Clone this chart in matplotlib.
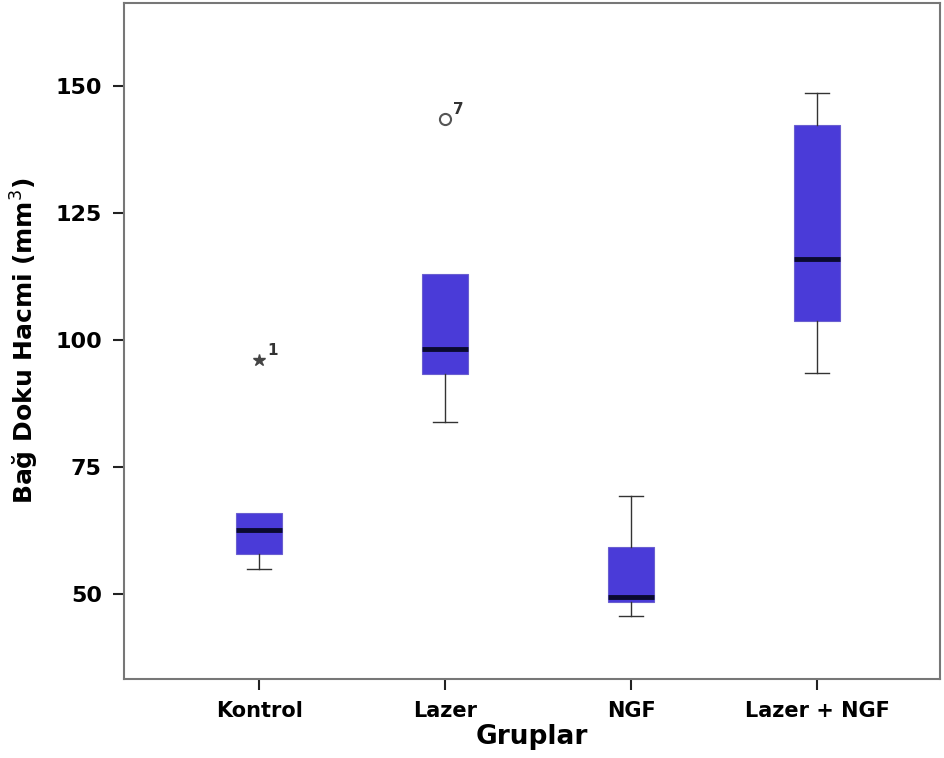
import matplotlib
matplotlib.use('Agg')
import matplotlib.pyplot as plt

# veriler
gruplar = ['Kontrol', 'Lazer', 'NGF', 'Lazer + NGF']
q1 = [57.9, 93.3, 48.4, 103.8]
medyan = [62.7, 98.3, 49.5, 115.9]
q3 = [66.0, 112.9, 59.3, 142.3]
alt_biyik = [54.9, 83.9, 45.7, 93.6]
ust_biyik = [66.0, 112.9, 69.35, 148.6]
aykiri = [[96.0], [143.4], [], []]
aykiri_etiket = ['1', '7', '', '']
aykiri_isaret = ['*', 'o', 'o', 'o']

stats = []
for i in range(len(gruplar)):
    stats.append(dict(label=gruplar[i], q1=q1[i], med=medyan[i], q3=q3[i],
                      whislo=alt_biyik[i], whishi=ust_biyik[i], fliers=[]))

fig = plt.figure(figsize=(9.45, 7.58), dpi=100)
ax = fig.add_axes([124/945, 1 - 679/758, (940 - 124)/945, (679 - 3)/758])

pos = [1, 2, 3, 4]
bp = ax.bxp(stats, positions=pos, widths=0.25, patch_artist=True, showfliers=False,
            boxprops=dict(facecolor='#4a3bd8', edgecolor='#6a5fd0', linewidth=0.8),
            medianprops=dict(color='#0a0a30', linewidth=3.5),
            whiskerprops=dict(color='#333333', linewidth=1),
            capprops=dict(color='#333333', linewidth=1), capwidths=0.13)

# ust biyik kutuya esitse cizgi yok
for i in range(len(gruplar)):
    if ust_biyik[i] <= q3[i]:
        bp['caps'][2*i + 1].set_visible(False)
        bp['whiskers'][2*i + 1].set_visible(False)

# aykiri degerler
for i in range(len(gruplar)):
    for v in aykiri[i]:
        if aykiri_isaret[i] == '*':
            ax.plot(pos[i], v, marker='*', color='#444444', markersize=9, linestyle='')
        else:
            ax.plot(pos[i], v, marker='o', markerfacecolor='white', markeredgecolor='#555555',
                    markersize=8, markeredgewidth=1.5, linestyle='')
        ax.annotate(aykiri_etiket[i], (pos[i], v), xytext=(6, 4), textcoords='offset points',
                    fontsize=11, fontweight='bold', color='#333333')

ax.set_xlim(0.274, 4.66)
ax.set_ylim(33.3, 166.3)
ax.set_yticks([50, 75, 100, 125, 150])
ax.set_xticks(pos)
ax.set_xticklabels(gruplar, fontsize=15, fontweight='bold')
for lab in ax.get_yticklabels():
    lab.set_fontsize(16)
    lab.set_fontweight('bold')
ax.tick_params(axis='both', direction='out', length=8, width=1.5, color='#222222', pad=8)
for s in ax.spines.values():
    s.set_color('#777777')
    s.set_linewidth(1.5)

ax.set_xlabel('Gruplar', fontsize=19, fontweight='bold', labelpad=2)
ax.set_ylabel('Bağ Doku Hacmi (mm$^3$)', fontsize=18, fontweight='bold', labelpad=10)

plt.savefig('out.png', dpi=100)
